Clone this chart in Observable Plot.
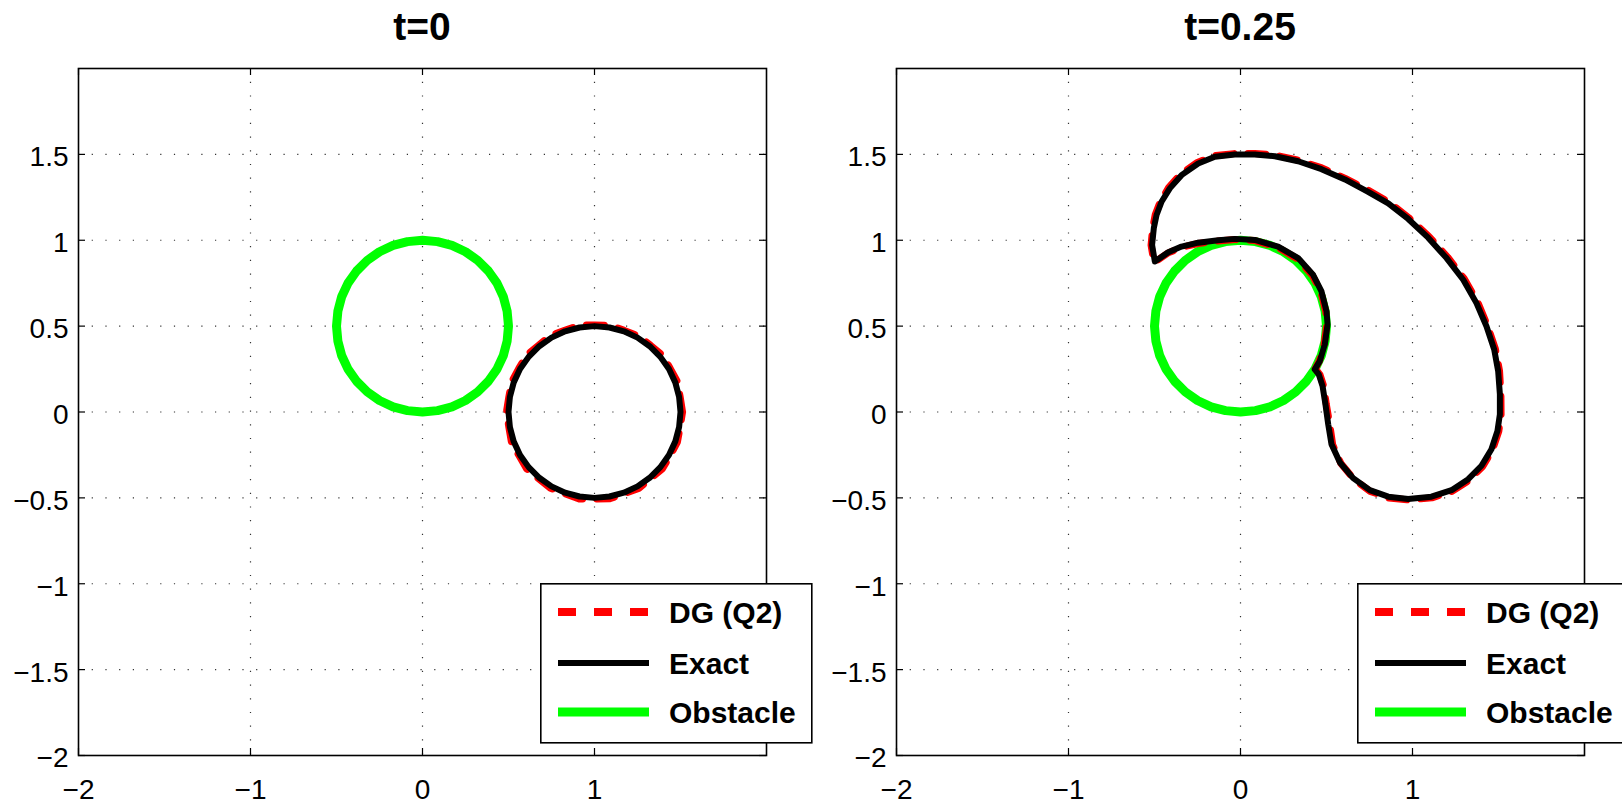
<!DOCTYPE html>
<html><head><meta charset="utf-8">
<script src="https://cdn.jsdelivr.net/npm/d3@7"></script>
<script src="https://cdn.jsdelivr.net/npm/@observablehq/plot@0.6"></script>
<style>
html,body{margin:0;padding:0;background:#fff;overflow:hidden;}
#root{position:relative;width:1622px;height:806px;font-family:"Liberation Sans",Arial,Helvetica,sans-serif;color:#000;}
.panel{position:absolute;top:0;width:811px;height:806px;}
.title{position:absolute;top:7px;text-align:center;font-weight:bold;font-size:39px;line-height:39px;}
.plotwrap{position:absolute;top:60px;left:0;}
.legend{position:absolute;top:583px;}
</style></head><body><div id="root"></div>
<script>
// ---- data ----
const titles = ["t=0", "t=0.25"];
const legendLabels = ["DG (Q2)", "Exact", "Obstacle"];
const xTicks = [-2, -1, 0, 1];
const yTicks = [-2, -1.5, -1, -0.5, 0, 0.5, 1, 1.5];
const xGrid = [-1, 0, 1];
const yGrid = [-1.5, -1, -0.5, 0, 0.5, 1, 1.5];

// obstacle (same in both panels)
const obstacle = [[0.5,0.5],[0.492,0.587],[0.47,0.671],[0.433,0.75],[0.383,0.821],[0.321,0.883],[0.25,0.933],[0.171,0.97],[0.087,0.992],[0,1],
[-0.087,0.992],[-0.171,0.97],[-0.25,0.933],[-0.321,0.883],[-0.383,0.821],[-0.433,0.75],[-0.47,0.671],[-0.492,0.587],[-0.5,0.5],
[-0.492,0.413],[-0.47,0.329],[-0.433,0.25],[-0.383,0.179],[-0.321,0.117],[-0.25,0.067],[-0.171,0.03],[-0.087,0.008],[0,0],
[0.087,0.008],[0.171,0.03],[0.25,0.067],[0.321,0.117],[0.383,0.179],[0.433,0.25],[0.47,0.329],[0.492,0.413],[0.5,0.5]];

// t = 0
const exact0 = [[1.5,0],[1.492,0.087],[1.47,0.171],[1.433,0.25],[1.383,0.321],[1.321,0.383],[1.25,0.433],[1.171,0.47],[1.087,0.492],[1,0.5],
[0.913,0.492],[0.829,0.47],[0.75,0.433],[0.679,0.383],[0.617,0.321],[0.567,0.25],[0.53,0.171],[0.508,0.087],[0.5,0],
[0.508,-0.087],[0.53,-0.171],[0.567,-0.25],[0.617,-0.321],[0.679,-0.383],[0.75,-0.433],[0.829,-0.47],[0.913,-0.492],[1,-0.5],
[1.087,-0.492],[1.171,-0.47],[1.25,-0.433],[1.321,-0.383],[1.383,-0.321],[1.433,-0.25],[1.47,-0.171],[1.492,-0.087],[1.5,0]];
const dg0 = [[1.512,0],[1.498,0.088],[1.483,0.176],[1.44,0.254],[1.395,0.331],[1.326,0.388],[1.256,0.443],[1.173,0.475],[1.089,0.505],[1,0.507],
[0.911,0.505],[0.827,0.475],[0.743,0.445],[0.674,0.388],[0.605,0.331],[0.56,0.254],[0.518,0.175],[0.502,0.088],[0.488,0],
[0.502,-0.088],[0.517,-0.176],[0.561,-0.254],[0.605,-0.331],[0.674,-0.388],[0.744,-0.444],[0.827,-0.475],[0.911,-0.506],[1,-0.507],
[1.089,-0.505],[1.173,-0.475],[1.257,-0.445],[1.326,-0.388],[1.395,-0.331],[1.44,-0.254],[1.482,-0.175],[1.498,-0.088],[1.512,0]];

// t = 0.25
const exact25 = [[0.432,0.248],[0.455,0.219],[0.477,0.151],[0.494,0.044],[0.51,-0.072],[0.529,-0.188],[0.578,-0.294],[0.655,-0.385],[0.752,-0.455],[0.859,-0.493],
[0.975,-0.507],[1.11,-0.493],[1.227,-0.455],[1.324,-0.391],[1.401,-0.313],[1.459,-0.217],[1.494,-0.11],[1.508,-0.014],[1.508,0.103],[1.498,0.238],
[1.475,0.364],[1.43,0.499],[1.372,0.634],[1.295,0.77],[1.198,0.896],[1.091,1.015],[0.975,1.124],[0.859,1.215],[0.742,1.282],[0.607,1.354],
[0.471,1.414],[0.335,1.46],[0.2,1.489],[0.083,1.499],[-0.033,1.499],[-0.149,1.486],[-0.246,1.447],[-0.343,1.379],[-0.411,1.302],[-0.459,1.224],
[-0.488,1.147],[-0.504,1.07],[-0.514,0.973],[-0.498,0.876],[-0.42,0.93],[-0.343,0.963],[-0.246,0.986],[-0.13,1.0],[-0.033,1.008],[0.083,1.002],
[0.219,0.963],[0.335,0.896],[0.422,0.799],[0.471,0.702],[0.5,0.586],[0.506,0.509],[0.49,0.393],[0.461,0.296],[0.432,0.248]];
const dg25 = [[0.435,0.252],[0.462,0.218],[0.484,0.15],[0.499,0.044],[0.519,-0.073],[0.536,-0.19],[0.584,-0.3],[0.66,-0.392],[0.754,-0.462],[0.862,-0.5],
[0.977,-0.512],[1.113,-0.5],[1.232,-0.461],[1.33,-0.397],[1.408,-0.317],[1.466,-0.219],[1.502,-0.111],[1.515,-0.014],[1.514,0.104],[1.506,0.24],
[1.482,0.367],[1.436,0.503],[1.38,0.638],[1.301,0.776],[1.205,0.901],[1.096,1.022],[0.98,1.13],[0.862,1.222],[0.745,1.29],[0.609,1.36],
[0.473,1.421],[0.336,1.466],[0.2,1.496],[0.083,1.505],[-0.034,1.505],[-0.152,1.492],[-0.251,1.453],[-0.349,1.384],[-0.418,1.306],[-0.466,1.227],
[-0.496,1.148],[-0.511,1.07],[-0.52,0.972],[-0.503,0.87],[-0.423,0.925],[-0.345,0.958],[-0.247,0.981],[-0.131,0.995],[-0.033,1.004],[0.084,0.998],
[0.217,0.958],[0.331,0.892],[0.418,0.796],[0.467,0.7],[0.496,0.585],[0.502,0.508],[0.486,0.392],[0.458,0.296],[0.435,0.252]];

const panels = [
  {title: titles[0], exact: exact0, dg: dg0, left: 0, marginLeft: 78, marginRight: 45, legendLeft: 540},
  {title: titles[1], exact: exact25, dg: dg25, left: 811, marginLeft: 85, marginRight: 38, legendLeft: 546}
];

const FONT = '"Liberation Sans", Arial, Helvetica, sans-serif';
const plotW = 688, plotH = 687;
const fmt = d => String(d).replace("-", "\u2212");
const root = document.getElementById("root");

for (const p of panels) {
  const panel = document.createElement("div");
  panel.className = "panel";
  panel.style.left = p.left + "px";
  root.appendChild(panel);

  const t = document.createElement("div");
  t.className = "title";
  t.style.left = p.marginLeft + "px";
  t.style.width = plotW + "px";
  t.textContent = p.title;
  panel.appendChild(t);

  const pt = d => d[0], py = d => d[1];
  const chart = Plot.plot({
    width: 811, height: 746,
    marginTop: 8, marginBottom: 51, marginLeft: p.marginLeft, marginRight: p.marginRight,
    x: {domain: [-2, 2]},
    y: {domain: [-2, 2]},
    style: {fontFamily: FONT, fontSize: "28px", color: "black", background: "transparent", overflow: "visible"},
    marks: [
      Plot.gridX(xGrid, {stroke: "#333", strokeOpacity: 1, strokeWidth: 1.2, strokeDasharray: "1.2,12.5"}),
      Plot.gridY(yGrid, {stroke: "#333", strokeOpacity: 1, strokeWidth: 1.2, strokeDasharray: "1.2,12.5"}),
      Plot.line(obstacle, {x: pt, y: py, stroke: "#00ff00", strokeWidth: 9, strokeLinejoin: "round", strokeLinecap: "round"}),
      Plot.line(p.dg, {x: pt, y: py, stroke: "#ff0000", strokeWidth: 7, strokeDasharray: "18,14"}),
      Plot.line(p.exact, {x: pt, y: py, stroke: "#000000", strokeWidth: 6, strokeLinejoin: "round"}),
      Plot.ruleX(xTicks, {x: d => d, insetTop: plotH - 7, stroke: "black", strokeWidth: 1.2}),
      Plot.ruleX(xTicks, {x: d => d, insetBottom: plotH - 7, stroke: "black", strokeWidth: 1.2}),
      Plot.ruleY(yTicks, {y: d => d, insetRight: plotW - 7, stroke: "black", strokeWidth: 1.2}),
      Plot.ruleY(yTicks, {y: d => d, insetLeft: plotW - 7, stroke: "black", strokeWidth: 1.2}),
      Plot.axisX(xTicks, {anchor: "bottom", tickSize: 0, tickPadding: 24, fontSize: 28, label: null, tickFormat: fmt}),
      Plot.axisY(yTicks, {anchor: "left", tickSize: 0, tickPadding: 10, fontSize: 28, label: null, dy: 3, tickFormat: fmt}),
      Plot.frame({stroke: "black", strokeWidth: 1.6})
    ]
  });
  const wrap = document.createElement("div");
  wrap.className = "plotwrap";
  wrap.appendChild(chart);
  panel.appendChild(wrap);

  // legend
  const lg = document.createElement("div");
  lg.className = "legend";
  lg.style.left = p.legendLeft + "px";
  const ns = "http://www.w3.org/2000/svg";
  const svg = document.createElementNS(ns, "svg");
  svg.setAttribute("width", 272); svg.setAttribute("height", 161);
  svg.style.overflow = "visible";
  const rect = document.createElementNS(ns, "rect");
  rect.setAttribute("x", 0.8); rect.setAttribute("y", 0.8);
  rect.setAttribute("width", 271); rect.setAttribute("height", 159);
  rect.setAttribute("fill", "white"); rect.setAttribute("stroke", "black"); rect.setAttribute("stroke-width", 1.6);
  svg.appendChild(rect);
  const styles = [
    {stroke: "#ff0000", w: 8, dash: "18,18"},
    {stroke: "#000000", w: 6, dash: null},
    {stroke: "#00ff00", w: 9, dash: null}
  ];
  const rows = [29, 80, 129];
  legendLabels.forEach((lab, i) => {
    const l = document.createElementNS(ns, "line");
    l.setAttribute("x1", 18); l.setAttribute("x2", 109);
    l.setAttribute("y1", rows[i]); l.setAttribute("y2", rows[i]);
    l.setAttribute("stroke", styles[i].stroke); l.setAttribute("stroke-width", styles[i].w);
    if (styles[i].dash) l.setAttribute("stroke-dasharray", styles[i].dash);
    svg.appendChild(l);
    const tx = document.createElementNS(ns, "text");
    tx.setAttribute("x", 129); tx.setAttribute("y", rows[i] + 11);
    tx.setAttribute("font-family", FONT); tx.setAttribute("font-weight", "bold");
    tx.setAttribute("font-size", 30);
    tx.textContent = lab;
    svg.appendChild(tx);
  });
  lg.appendChild(svg);
  panel.appendChild(lg);
}
</script></body></html>
